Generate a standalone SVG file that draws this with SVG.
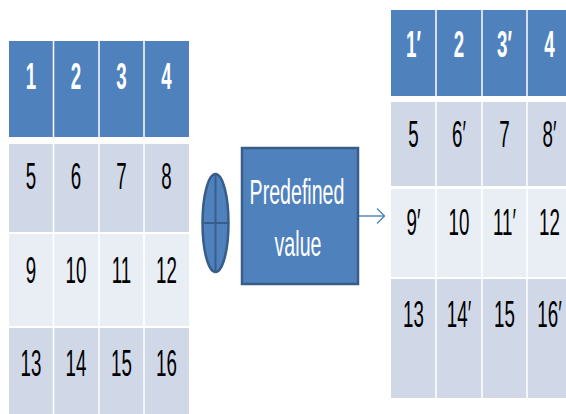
<svg xmlns="http://www.w3.org/2000/svg" width="566" height="414" viewBox="0 0 566 414">
  <style>
    .hd { fill: #4F81BD; }
    .r1 { fill: #D0D8E8; }
    .r2 { fill: #E9EDF4; }
    .sep { stroke: #FFFFFF; stroke-width: 1.5; }
    .num { font-family: "Liberation Sans", Arial, sans-serif; font-size: 36px; text-anchor: middle;
           transform-box: fill-box; transform-origin: center; transform: scaleX(0.52); }
    .w { fill: #FFFFFF; font-weight: bold; }
    .k { fill: #000000; }
    .shape { fill: #4F81BD; stroke: #385D8A; stroke-width: 2.5; }
    .lbl { font-family: "Liberation Sans", Arial, sans-serif; font-size: 35px; fill: #FFFFFF; text-anchor: middle;
           transform-box: fill-box; transform-origin: center; transform: scaleX(0.56); }
    .conn { fill: none; stroke: #4F81BD; stroke-width: 1.4; }
  </style>

  <rect width="566" height="414" fill="#FFFFFF"/>

  <!-- input block: 4x4 grid -->
  <g id="input-table">
    <rect class="hd" x="9" y="41" width="180" height="96"/>
    <rect class="r1" x="9" y="144" width="180" height="88"/>
    <rect class="r2" x="9" y="234" width="180" height="92"/>
    <rect class="r1" x="9" y="328" width="180" height="86"/>
    <line class="sep" x1="53.5" y1="41" x2="53.5" y2="414"/>
    <line class="sep" x1="99" y1="41" x2="99" y2="414"/>
    <line class="sep" x1="144" y1="41" x2="144" y2="414"/>

    <text class="num w" x="31" y="89">1</text>
    <text class="num w" x="76" y="89">2</text>
    <text class="num w" x="121.5" y="89">3</text>
    <text class="num w" x="166.5" y="89">4</text>

    <text class="num k" x="31" y="189">5</text>
    <text class="num k" x="76" y="189">6</text>
    <text class="num k" x="121.5" y="189">7</text>
    <text class="num k" x="166.5" y="189">8</text>

    <text class="num k" x="31" y="283">9</text>
    <text class="num k" x="76" y="283">10</text>
    <text class="num k" x="121.5" y="283">11</text>
    <text class="num k" x="166.5" y="283">12</text>

    <text class="num k" x="31" y="376">13</text>
    <text class="num k" x="76" y="376">14</text>
    <text class="num k" x="121.5" y="376">15</text>
    <text class="num k" x="166.5" y="376">16</text>
  </g>

  <!-- XOR operator -->
  <g id="xor">
    <ellipse class="shape" cx="215.5" cy="223" rx="13" ry="49"/>
    <line x1="215.5" y1="174" x2="215.5" y2="272" stroke="#385D8A" stroke-width="2"/>
    <line x1="202.5" y1="223" x2="228.5" y2="223" stroke="#385D8A" stroke-width="2"/>
  </g>

  <!-- key block -->
  <g id="predefined">
    <rect class="shape" x="242" y="148" width="116" height="136"/>
    <text class="lbl" x="297" y="204">Predefined</text>
    <text class="lbl" x="298" y="256">value</text>
  </g>

  <!-- connectors -->
  <g id="connectors">
    <line class="conn" x1="359" y1="216" x2="384" y2="216"/>
    <polyline class="conn" points="377,208.5 384.5,216 377,223.5"/>
  </g>

  <!-- output block: 4x4 grid with primed entries -->
  <g id="output-table">
    <rect class="hd" x="391" y="10" width="181" height="86"/>
    <rect class="r1" x="391" y="102" width="181" height="84"/>
    <rect class="r2" x="391" y="189" width="181" height="88"/>
    <rect class="r1" x="391" y="279" width="181" height="119"/>
    <line class="sep" x1="436" y1="10" x2="436" y2="398"/>
    <line class="sep" x1="482" y1="10" x2="482" y2="398"/>
    <line class="sep" x1="527" y1="10" x2="527" y2="398"/>

    <text class="num w" x="413.5" y="57">1′</text>
    <text class="num w" x="459" y="57">2</text>
    <text class="num w" x="504.5" y="57">3′</text>
    <text class="num w" x="549.5" y="57">4</text>

    <text class="num k" x="413.5" y="147">5</text>
    <text class="num k" x="459" y="147">6′</text>
    <text class="num k" x="504.5" y="147">7</text>
    <text class="num k" x="549.5" y="147">8′</text>

    <text class="num k" x="413.5" y="235">9′</text>
    <text class="num k" x="459" y="235">10</text>
    <text class="num k" x="504.5" y="235">11′</text>
    <text class="num k" x="549.5" y="235">12</text>

    <text class="num k" x="413.5" y="327">13</text>
    <text class="num k" x="459" y="327">14′</text>
    <text class="num k" x="504.5" y="327">15</text>
    <text class="num k" x="549.5" y="327">16′</text>
  </g>
</svg>
